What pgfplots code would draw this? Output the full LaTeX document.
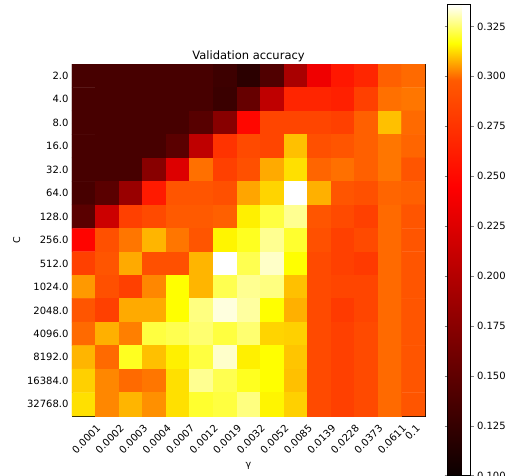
\documentclass[border=0pt]{standalone}
\usepackage{fontspec}
\setmainfont{DejaVu Sans}
\usepackage{pgfplots}
\pgfplotsset{compat=1.18}

% matplotlib "hot" seen through a midpoint norm (vmin 0.1, mid 0.298, vmax 0.336)
\pgfplotsset{
  colormap={hotmid}{rgb(0pt)=(0.0416,0,0); rgb(144.6pt)=(1,0,0); rgb(198pt)=(1,0.354,0); rgb(216.6pt)=(1,1,0); rgb(236pt)=(1,1,1)},
  every tick label/.append style={font=\fontsize{10}{12}\selectfont},
  /pgf/number format/assume math mode=true,
}

\begin{document}
\begin{tikzpicture}
\begin{axis}[
  scale only axis, width=353pt, height=352pt,
  xmin=-0.5, xmax=14.5, ymin=-0.5, ymax=14.5,
  y dir=reverse, enlargelimits=false,
  colormap name=hotmid,
  point meta min=0.1, point meta max=0.336,
  xtick={0,...,13}, ytick={0,...,14},
  xticklabels={0.0001,0.0002,0.0003,0.0004,0.0007,0.0012,0.0019,0.0032,0.0052,0.0085,0.0139,0.0228,0.0373,0.0611},
  extra x ticks={14}, extra x tick labels={0.1},
  extra x tick style={xticklabel style={xshift=-7pt, yshift=7pt}},
  yticklabels={2.0,4.0,8.0,16.0,32.0,64.0,128.0,256.0,512.0,1024.0,2048.0,4096.0,8192.0,16384.0,32768.0},
  xticklabel style={anchor=north east, xshift=12pt, yshift=-3pt, rotate=45},
  tick align=inside, major tick length=3.5pt,
  title={Validation accuracy}, title style={font=\fontsize{11.5}{13}\selectfont, yshift=-7pt},
  xlabel={γ}, ylabel={C},
  label style={font=\fontsize{9.5}{11}\selectfont},
  colorbar,
  colorbar style={
    at={(parent axis.east)}, anchor=west, xshift=14pt,
    scale only axis, width=23pt, height=471pt,
    ytick={0.1,0.125,0.15,0.175,0.2,0.225,0.25,0.275,0.3,0.325},
    yticklabels={0.100,0.125,0.150,0.175,0.200,0.225,0.250,0.275,0.300,0.325},
    tick align=outside, major tick length=3pt,
  },
]
\addplot[matrix plot*, mesh/cols=15, point meta=explicit] table[meta=c, row sep=\\] {
x y c\\
0 0 0.136\\ 1 0 0.136\\ 2 0 0.136\\ 3 0 0.136\\ 4 0 0.136\\ 5 0 0.136\\ 6 0 0.130\\ 7 0 0.119\\ 8 0 0.141\\ 9 0 0.194\\ 10 0 0.236\\ 11 0 0.258\\ 12 0 0.267\\ 13 0 0.2986\\ 14 0 0.2998\\
0 1 0.136\\ 1 1 0.136\\ 2 1 0.136\\ 3 1 0.136\\ 4 1 0.136\\ 5 1 0.136\\ 6 1 0.128\\ 7 1 0.154\\ 8 1 0.207\\ 9 1 0.2665\\ 10 1 0.2665\\ 11 1 0.2635\\ 12 1 0.2823\\ 13 1 0.3005\\ 14 1 0.3011\\
0 2 0.136\\ 1 2 0.136\\ 2 2 0.136\\ 3 2 0.136\\ 4 2 0.136\\ 5 2 0.145\\ 6 2 0.174\\ 7 2 0.249\\ 8 2 0.2853\\ 9 2 0.2853\\ 10 2 0.2853\\ 11 2 0.2823\\ 12 2 0.2986\\ 13 2 0.3095\\ 14 2 0.2998\\
0 3 0.136\\ 1 3 0.136\\ 2 3 0.136\\ 3 3 0.136\\ 4 3 0.147\\ 5 3 0.207\\ 6 3 0.2748\\ 7 3 0.2883\\ 8 3 0.2853\\ 9 3 0.3095\\ 10 3 0.292\\ 11 3 0.2948\\ 12 3 0.2986\\ 13 3 0.3011\\ 14 3 0.2992\\
0 4 0.136\\ 1 4 0.136\\ 2 4 0.136\\ 3 4 0.174\\ 4 4 0.2245\\ 5 4 0.3005\\ 6 4 0.2823\\ 7 4 0.292\\ 8 4 0.307\\ 9 4 0.3131\\ 10 4 0.2992\\ 11 4 0.3005\\ 12 4 0.2986\\ 13 4 0.3011\\ 14 4 0.2948\\
0 5 0.136\\ 1 5 0.147\\ 2 5 0.184\\ 3 5 0.2597\\ 4 5 0.2948\\ 5 5 0.2948\\ 6 5 0.292\\ 7 5 0.3064\\ 8 5 0.3118\\ 9 5 0.336\\ 10 5 0.3077\\ 11 5 0.2948\\ 12 5 0.292\\ 13 5 0.2992\\ 14 5 0.2986\\
0 6 0.147\\ 1 6 0.2145\\ 2 6 0.2823\\ 3 6 0.2883\\ 4 6 0.298\\ 5 6 0.298\\ 6 6 0.2986\\ 7 6 0.3149\\ 8 6 0.3215\\ 9 6 0.3276\\ 10 6 0.2948\\ 11 6 0.2883\\ 12 6 0.2823\\ 13 6 0.2998\\ 14 6 0.2948\\
0 7 0.247\\ 1 7 0.292\\ 2 7 0.3011\\ 3 7 0.3083\\ 4 7 0.3011\\ 5 7 0.2948\\ 6 7 0.3155\\ 7 7 0.319\\ 8 7 0.3276\\ 9 7 0.3202\\ 10 7 0.292\\ 11 7 0.2823\\ 12 7 0.2883\\ 13 7 0.2998\\ 14 7 0.2948\\
0 8 0.2823\\ 1 8 0.2948\\ 2 8 0.307\\ 3 8 0.292\\ 4 8 0.292\\ 5 8 0.3083\\ 6 8 0.336\\ 7 8 0.3227\\ 8 8 0.3318\\ 9 8 0.3166\\ 10 8 0.2883\\ 11 8 0.2823\\ 12 8 0.2788\\ 13 8 0.2998\\ 14 8 0.2948\\
0 9 0.3051\\ 1 9 0.292\\ 2 9 0.2823\\ 3 9 0.3031\\ 4 9 0.3166\\ 5 9 0.3083\\ 6 9 0.3227\\ 7 9 0.3276\\ 8 9 0.3263\\ 9 9 0.3095\\ 10 9 0.2883\\ 11 9 0.2853\\ 12 9 0.2853\\ 13 9 0.2998\\ 14 9 0.2948\\
0 10 0.2948\\ 1 10 0.2823\\ 2 10 0.307\\ 3 10 0.307\\ 4 10 0.3166\\ 5 10 0.3263\\ 6 10 0.3335\\ 7 10 0.3288\\ 8 10 0.3166\\ 9 10 0.3077\\ 10 10 0.2883\\ 11 10 0.2788\\ 12 10 0.2853\\ 13 10 0.2998\\ 14 10 0.2948\\
0 11 0.2998\\ 1 11 0.3077\\ 2 11 0.3022\\ 3 11 0.3215\\ 4 11 0.3227\\ 5 11 0.3251\\ 6 11 0.3215\\ 7 11 0.3251\\ 8 11 0.3118\\ 9 11 0.3113\\ 10 11 0.2883\\ 11 11 0.2823\\ 12 11 0.2883\\ 13 11 0.2998\\ 14 11 0.2948\\
0 12 0.3083\\ 1 12 0.2998\\ 2 12 0.319\\ 3 12 0.3095\\ 4 12 0.3149\\ 5 12 0.3215\\ 6 12 0.332\\ 7 12 0.3149\\ 8 12 0.3166\\ 9 12 0.31\\ 10 12 0.2883\\ 11 12 0.2823\\ 12 12 0.2883\\ 13 12 0.2998\\ 14 12 0.2948\\
0 13 0.3113\\ 1 13 0.3031\\ 2 13 0.2998\\ 3 13 0.3011\\ 4 13 0.3131\\ 5 13 0.3276\\ 6 13 0.3227\\ 7 13 0.319\\ 8 13 0.3166\\ 9 13 0.3095\\ 10 13 0.2883\\ 11 13 0.2823\\ 12 13 0.2883\\ 13 13 0.2998\\ 14 13 0.2948\\
0 14 0.3131\\ 1 14 0.3031\\ 2 14 0.3083\\ 3 14 0.3041\\ 4 14 0.3131\\ 5 14 0.3202\\ 6 14 0.3215\\ 7 14 0.3263\\ 8 14 0.3155\\ 9 14 0.3113\\ 10 14 0.2883\\ 11 14 0.2823\\ 12 14 0.2883\\ 13 14 0.2998\\ 14 14 0.2948\\
};
\end{axis}
\pgfresetboundingbox
\path[use as bounding box] (-72pt,-59pt) rectangle (433pt,416pt);
\end{tikzpicture}
\end{document}
